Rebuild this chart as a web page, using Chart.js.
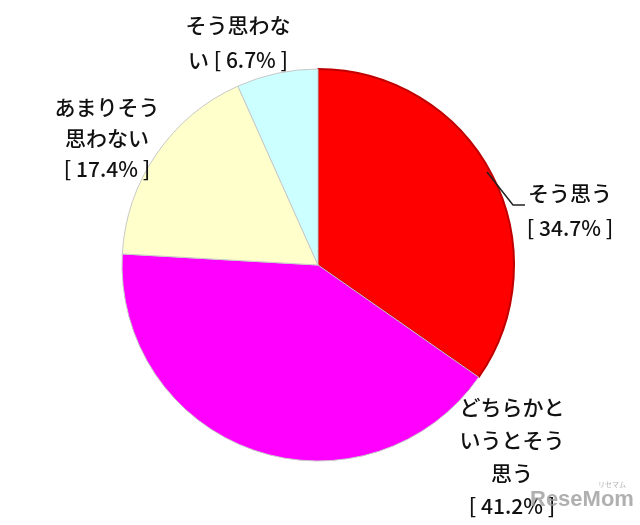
<!DOCTYPE html>
<html>
<head>
<meta charset="utf-8">
<script src="https://cdn.jsdelivr.net/npm/chart.js@4/dist/chart.umd.min.js"></script>
<style>
  html, body { margin: 0; padding: 0; background: #fff; }
  #wrap { width: 640px; height: 525px; position: relative; }
</style>
</head>
<body>
<div id="wrap"><canvas id="pie"></canvas></div>
<script>
// answers, clockwise from 12 o'clock
var categories = ['そう思う', 'どちらかというとそう思う', 'あまりそう思わない', 'そう思わない'];
var shares = [34.7, 41.2, 17.4, 6.7];
var sliceColors = ['#ff0000', '#ff00ff', '#ffffcc', '#ccffff'];
var edgeColors = ['#c00000', '#c8c8c8', '#c8c8c8', '#c8c8c8'];

// label text lines for each slice
var labelLines = [
  ['そう思う', '[ 34.7% ]'],
  ['どちらかと', 'いうとそう', '思う', '[ 41.2% ]'],
  ['あまりそう', '思わない', '[ 17.4% ]'],
  ['そう思わな', 'い [ 6.7% ]']
];
var labelSpots = [[570, 193], [512, 407], [107, 107], [238, 25]];
var lineGap = [35, 33, 31, 35];

var outsideLabels = {
  id: 'outsideLabels',
  afterDraw: function(chart) {
    var ctx = chart.ctx;
    ctx.save();
    ctx.font = '500 21px "Noto Sans CJK JP", sans-serif';
    ctx.fillStyle = '#111';
    ctx.textAlign = 'center';
    ctx.textBaseline = 'middle';
    labelLines.forEach(function(lines, i) {
      lines.forEach(function(t, j) {
        ctx.fillText(t, labelSpots[i][0], labelSpots[i][1] + j * lineGap[i]);
      });
    });
    // leader line for the first slice
    ctx.strokeStyle = '#222';
    ctx.lineWidth = 1.5;
    ctx.beginPath();
    ctx.moveTo(487, 172);
    ctx.lineTo(513, 205);
    ctx.lineTo(525, 205);
    ctx.stroke();
    // watermark
    ctx.font = 'bold 22px "Liberation Sans", sans-serif';
    ctx.fillStyle = 'rgba(150,150,150,0.75)';
    ctx.textAlign = 'left';
    ctx.fillText('ReseMom', 530, 500);
    ctx.font = '7px "Noto Sans CJK JP", sans-serif';
    ctx.fillText('リセマム', 598, 484);
    ctx.restore();
  }
};

new Chart(document.getElementById('pie').getContext('2d'), {
  type: 'pie',
  data: {
    labels: categories,
    datasets: [{
      data: shares,
      backgroundColor: sliceColors,
      borderColor: edgeColors,
      borderWidth: [2, 1, 1, 1]
    }]
  },
  options: {
    responsive: true,
    maintainAspectRatio: false,
    animation: false,
    layout: { padding: { top: 68, bottom: 63, left: 121, right: 125 } },
    plugins: {
      legend: { display: false },
      tooltip: { enabled: false }
    }
  },
  plugins: [outsideLabels]
});
</script>
</body>
</html>
